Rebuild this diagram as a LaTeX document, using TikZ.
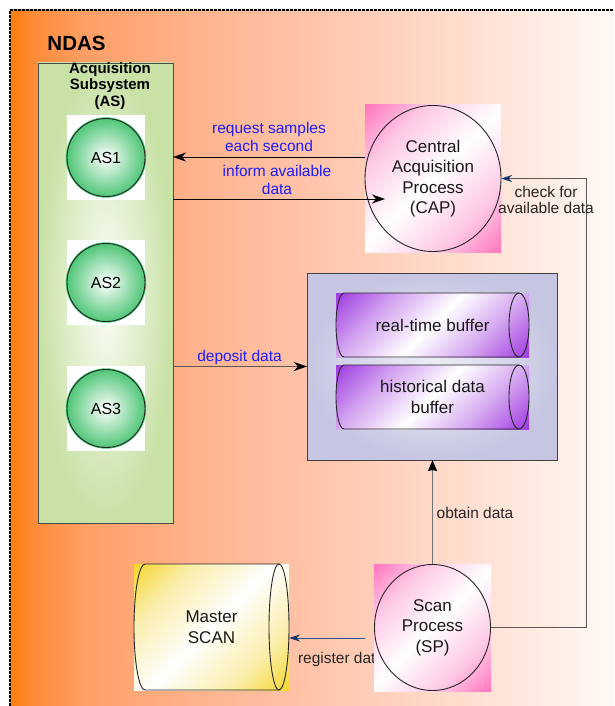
\documentclass[tikz,border=0pt]{standalone}
\usepackage{fontspec}
\setmainfont{Liberation Sans}
\usetikzlibrary{arrows.meta,calc}

% page background: orange fading to white
\definecolor{bgA}{RGB}{255,125,12}
\definecolor{bgB}{RGB}{255,140,55}
\definecolor{bgC}{RGB}{255,158,100}
\definecolor{bgD}{RGB}{255,178,140}
\definecolor{bgE}{RGB}{255,200,176}
\definecolor{bgF}{RGB}{255,225,212}
\definecolor{bgG}{RGB}{255,249,246}
\pgfdeclarehorizontalshading{ndasbg}{100bp}{color(0bp)=(bgA); color(25bp)=(bgA); color(27bp)=(bgB); color(31bp)=(bgC); color(40bp)=(bgD); color(52bp)=(bgE); color(64bp)=(bgF); color(75bp)=(bgG); color(100bp)=(bgG)}

% diagonal corner shadings for process and store symbols
\definecolor{pinkC}{RGB}{255,120,190}
\definecolor{pinkM}{RGB}{255,200,230}
\definecolor{purpC}{RGB}{160,60,225}
\definecolor{purpM}{RGB}{212,165,240}
\definecolor{yelC}{RGB}{245,215,50}
\definecolor{yelM}{RGB}{250,238,172}
\pgfdeclareverticalshading{pinkdiag}{100bp}{color(0bp)=(pinkC); color(15bp)=(pinkC); color(30bp)=(pinkM); color(50bp)=(white); color(70bp)=(pinkM); color(85bp)=(pinkC); color(100bp)=(pinkC)}
\pgfdeclareverticalshading{purpdiag}{100bp}{color(0bp)=(purpC); color(15bp)=(purpC); color(32bp)=(purpM); color(50bp)=(white); color(68bp)=(purpM); color(85bp)=(purpC); color(100bp)=(purpC)}
\pgfdeclareverticalshading{yeldiag}{100bp}{color(0bp)=(yelC); color(15bp)=(yelC); color(30bp)=(yelM); color(50bp)=(white); color(70bp)=(yelM); color(85bp)=(yelC); color(100bp)=(yelC)}

\definecolor{asgreen}{RGB}{80,198,120}
\definecolor{asrim}{RGB}{60,200,110}
\definecolor{boxgreen}{RGB}{200,225,165}
\definecolor{lavIn}{RGB}{238,238,247}
\definecolor{lavOut}{RGB}{198,198,226}
\definecolor{flowblue}{RGB}{30,30,250}
\definecolor{navy}{RGB}{25,55,105}
\definecolor{linkblue}{RGB}{45,85,145}

% cylinder outline over a node: node, left radius, right radius, half height
\newcommand\cylout[4]{%
  \draw[outl] ([xshift=-#3]#1.north east) -- ([xshift=#2]#1.north west)
    arc[start angle=90,end angle=270,x radius=#2,y radius=#4]
    -- ([xshift=-#3]#1.south east);
  \draw[outl] ([xshift=-#3]#1.east) ellipse[x radius=#3,y radius=#4];}

\begin{document}
\begin{tikzpicture}[x=1pt,y=-1pt,
  every node/.style={inner sep=0pt,outer sep=0pt},
  txt/.style={font=\fontsize{17}{20.5}\selectfont,text=black!90,align=center},
  flow/.style={font=\fontsize{15.5}{18}\selectfont,text=flowblue,align=center},
  note/.style={font=\fontsize{15.5}{16.5}\selectfont,text=black!85,align=center},
  outl/.style={draw=black!85,line width=0.9pt},
  asbox/.style={shade,inner color={rgb,255:red,252;green,253;blue,248},outer color=boxgreen,
    draw=black!70,line width=0.9pt,minimum width=135pt,minimum height=460pt},
  ascircle/.style={circle,minimum size=78pt,shade,inner color=white,outer color=asgreen,
    draw=black!85,line width=0.9pt,preaction={draw=asrim,line width=2.4pt},
    font=\fontsize{16}{19}\selectfont},
  procbg/.style={shade,shading=pinkdiag,shading angle=45},
  bufbg/.style={shade,shading=purpdiag,shading angle=45,minimum width=193pt,minimum height=64pt},
  scanbg/.style={shade,shading=yeldiag,shading angle=45},
  storebox/.style={shade,inner color=lavIn,outer color=lavOut,draw=black!75,line width=0.9pt,
    minimum width=250pt,minimum height=187pt},
  arr/.style={-{Stealth[length=13pt,width=9pt,inset=4pt,color=black]},line width=0.9pt,draw=black},
  arrg/.style={-{Stealth[length=11pt,width=9pt,inset=1pt,color=black]},line width=1.3pt,draw=black!55},
  arrn/.style={-{Stealth[length=11pt,width=7pt,inset=3.5pt,color=navy]},line width=0.9pt},
]
\useasboundingbox (0,0) rectangle (614,706);
\fill[white] (0,0) rectangle (614,706);
\shade[shading=ndasbg] (10,10) rectangle (614,706);
\draw[black,line width=1.1pt,dash pattern=on 3pt off 1pt] (10,706) -- (10,10) -- (614,10);

\node[font=\bfseries\fontsize{20.5}{24}\selectfont] (ndas) at (76.5,43) {NDAS};

% acquisition subsystem with its three units
\node[asbox] (as) at (105.5,293) {};
\node[font=\bfseries\fontsize{15}{16.5}\selectfont,align=center] (astitle) at (110,86) {Acquisition\\Subsystem\\(AS)};
\foreach \n/\y in {1/157.5,2/282.5,3/408.5}{
  \fill[white] (67,\y-42.5) rectangle (145,\y+42.5);
  \node[ascircle] (as\n) at (106,\y) {AS\n};
}

% central acquisition process
\node[procbg,minimum width=136pt,minimum height=147pt,txt] (cap) at (433,178.5) {Central\\Acquisition\\Process\\(CAP)};
\draw[outl] (cap.center) ellipse[x radius=68pt,y radius=73pt];

% data store with both buffers
\node[storebox] (store) at (432,366.5) {};
\node[bufbg,txt] (rtb) at (432.5,325) {real-time buffer};
\cylout{rtb}{8pt}{10pt}{32pt}
\node[bufbg,txt] (hdb) at (432.5,397) {historical data\\buffer};
\cylout{hdb}{8pt}{10pt}{32pt}

% master scan store
\node[scanbg,minimum width=155pt,minimum height=126pt,txt] (ms) at (211.5,627) {Master\\SCAN};
\cylout{ms}{11pt}{10pt}{63pt}

\node[note,anchor=west] (regl) at (298,659.5) {register data};

% scan process
\node[procbg,minimum width=117pt,minimum height=127pt,txt] (sp) at (432.5,627.5) {Scan\\Process\\(SP)};
\draw[outl] (sp.center) ellipse[x radius=58pt,y radius=63pt];

% connectors
\coordinate (reqs) at ([yshift=21.5pt]cap.west);
\coordinate (infe) at ([xshift=20pt,yshift=-20.5pt]cap.west);
\coordinate (regs) at ([xshift=-9pt,yshift=-10.5pt]sp.west);
\draw[arr] (reqs) -- (as.east |- reqs);
\draw[arr] (as.east |- infe) -- (infe);
\draw[arr,draw=black!65] (as.east |- store.west) -- (store.west);
\draw[arrg] (sp.north) -- (sp.north |- store.south);
\draw[arrn,draw=black!65] (sp.east) -- ++(95pt,0) |- (cap.east);
\draw[arrn,draw=linkblue] (regs) -- (ms.east |- regs);

% connector labels
\node[flow] (reql) at (269,137) {request samples\\each second};
\node[flow] (infl) at (277,180) {inform available\\data};
\node[flow] (depl) at (239.5,357) {deposit data};
\node[note] (chkl) at (546,200) {check for\\available data};
\node[note] (obtl) at (475,513) {obtain data};
\end{tikzpicture}
\end{document}
